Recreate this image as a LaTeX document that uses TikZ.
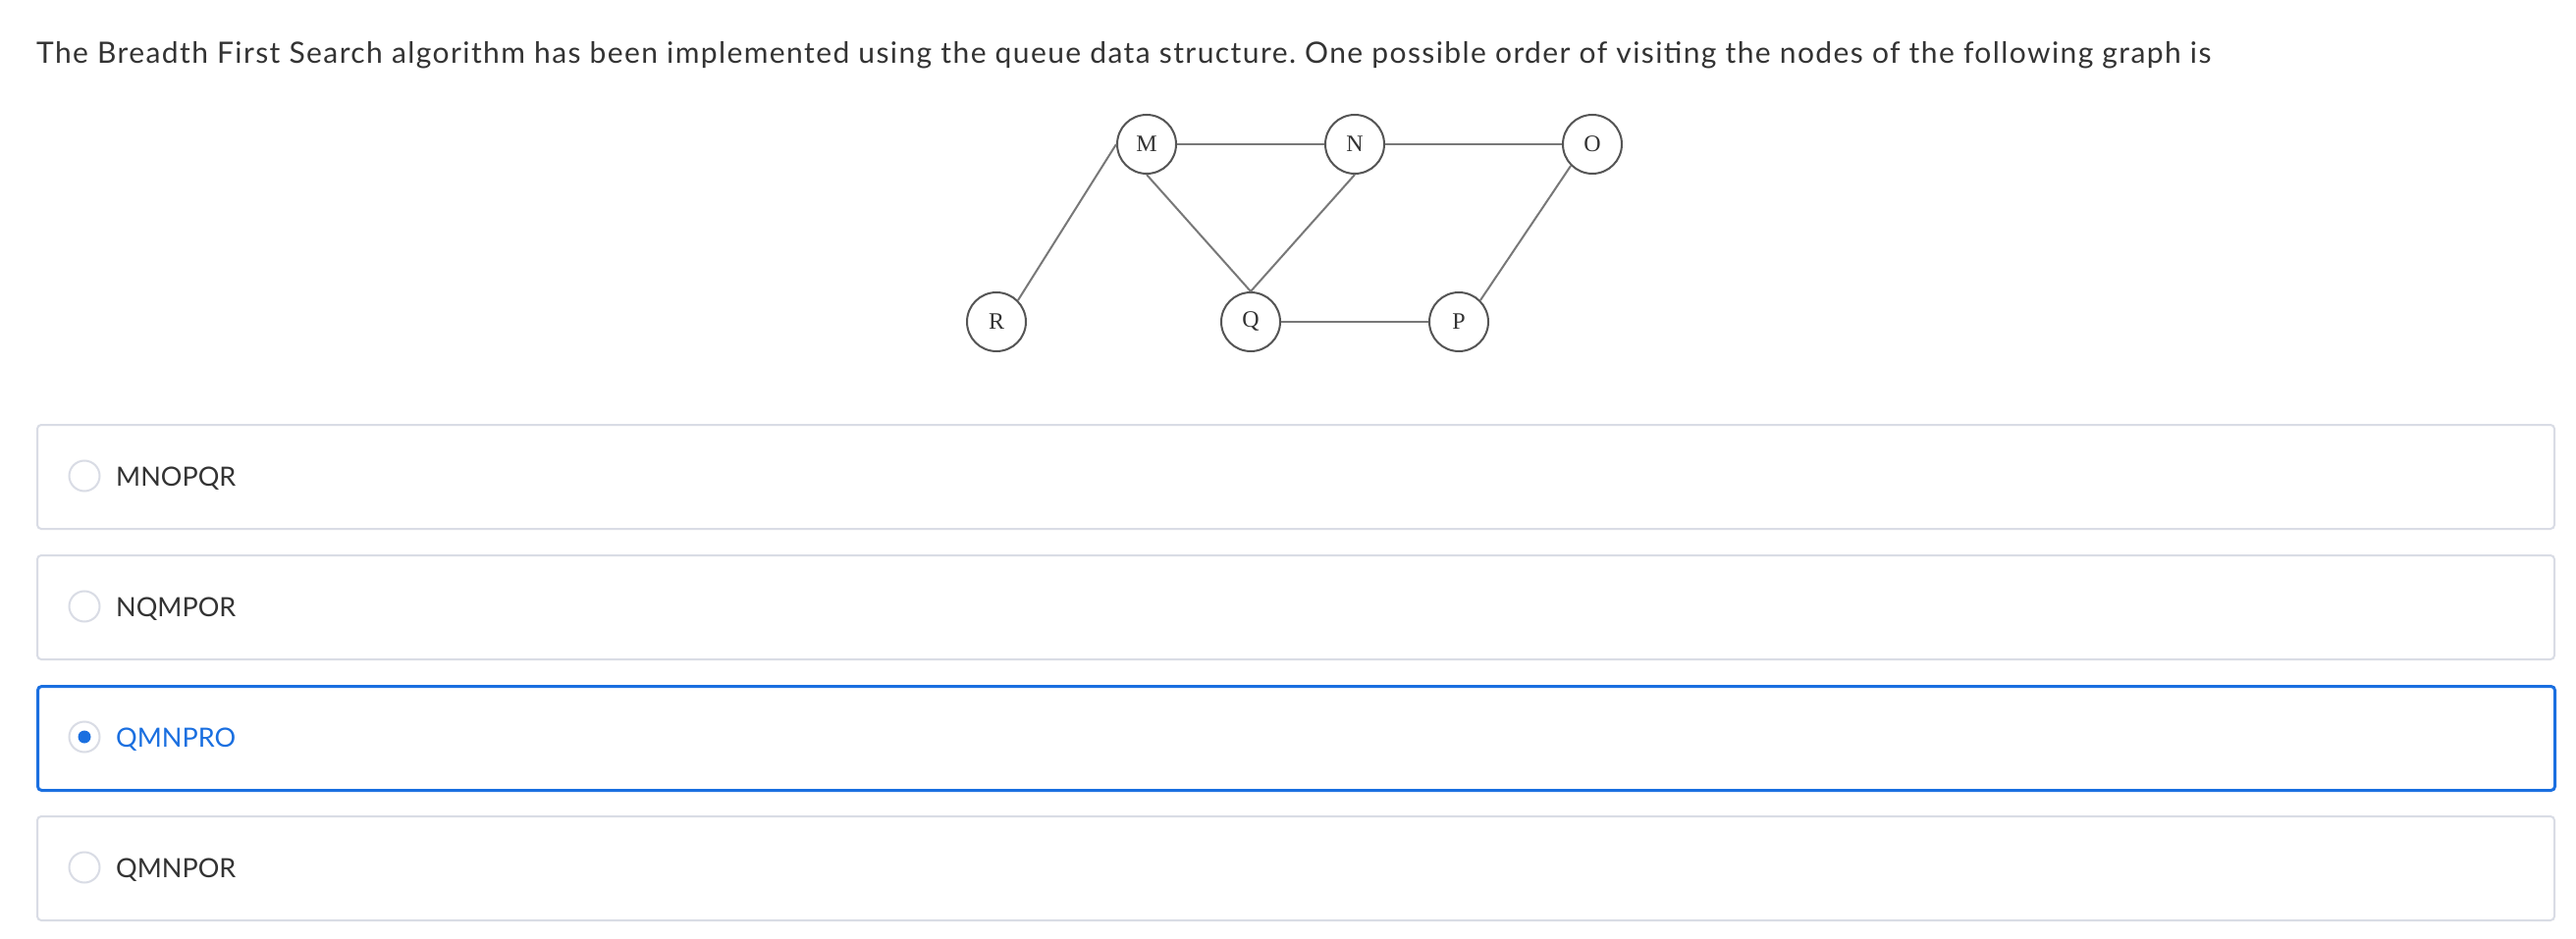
\documentclass[tikz,border=0pt]{standalone}
\usepackage{fontspec}
\setmainfont{Lato}
\newfontfamily\vfont{Liberation Serif}
\newfontfamily\qfont[LetterSpace=4.7]{Lato}
\usetikzlibrary{positioning}
\definecolor{txtgray}{RGB}{51,51,51}
\definecolor{vgray}{RGB}{85,85,85}
\definecolor{egray}{RGB}{120,120,120}
\definecolor{boxgray}{RGB}{217,220,229}
\definecolor{selblue}{RGB}{26,111,224}
\frenchspacing

\begin{document}
\begin{tikzpicture}[x=1pt,y=-1pt,
	vtx/.style={circle,draw=vgray,line width=2pt,minimum size=60pt,inner sep=0pt,text=txtgray,font=\vfont\fontsize{24}{24}\selectfont},
	edge/.style={draw=egray,line width=2pt},
	optbox/.style={draw=boxgray,line width=2pt,rounded corners=4pt,minimum width=2564pt,minimum height=106pt,anchor=north west},
	radio/.style={circle,draw=boxgray,line width=2pt,minimum size=31pt,inner sep=0pt},
	opt/.style={anchor=base west,inner sep=0pt,text=txtgray,font=\fontsize{27}{27}\selectfont}]
	\useasboundingbox[fill=white] (0,0) rectangle (2624,957);
	% question
	\node[anchor=base west,inner sep=0pt,text=txtgray,font=\qfont\fontsize{30}{30}\selectfont] (question) at (37,65) {The Breadth First Search algorithm has been implemented using the queue data structure. One possible order of visiting the nodes of the following graph is};
	% graph
	\node[vtx] (M) at (1168,147) {M};
	\node[vtx] (N) at (1380,147) {N};
	\node[vtx] (O) at (1622,147) {O};
	\node[vtx] (R) at (1015,328) {R};
	\node[vtx] (Q) at (1274,328) {Q};
	\node[vtx] (P) at (1486,328) {P};
	\draw[edge] (M)--(N);
	\draw[edge] (N)--(O);
	\draw[edge] (M.west)--(R.north east);
	\draw[edge] (M.south)--(Q.north);
	\draw[edge] (N.south)--(Q.north);
	\draw[edge] (Q)--(P);
	\draw[edge] (O.south west)--(P.north east);
	% options
	\node[optbox] (box1) at (37,432) {};
	\node[optbox] (box2) at (37,565) {};
	\node[optbox,draw=selblue,line width=3pt] (box3) at (37,698) {};
	\node[optbox] (box4) at (37,831) {};
	\node[radio] (r1) at (86,485) {};
	\node[radio] (r2) at (86,618) {};
	\node[radio] (r3) at (86,751) {};
	\node[radio] (r4) at (86,884) {};
	\fill[selblue] (r3.center) circle (6.5);
	\node[opt] (t1) at (118,495) {MNOPQR};
	\node[opt] (t2) at (118,628) {NQMPOR};
	\node[opt,text=selblue] (t3) at (118,761) {QMNPRO};
	\node[opt] (t4) at (118,894) {QMNPOR};
\end{tikzpicture}
\end{document}
